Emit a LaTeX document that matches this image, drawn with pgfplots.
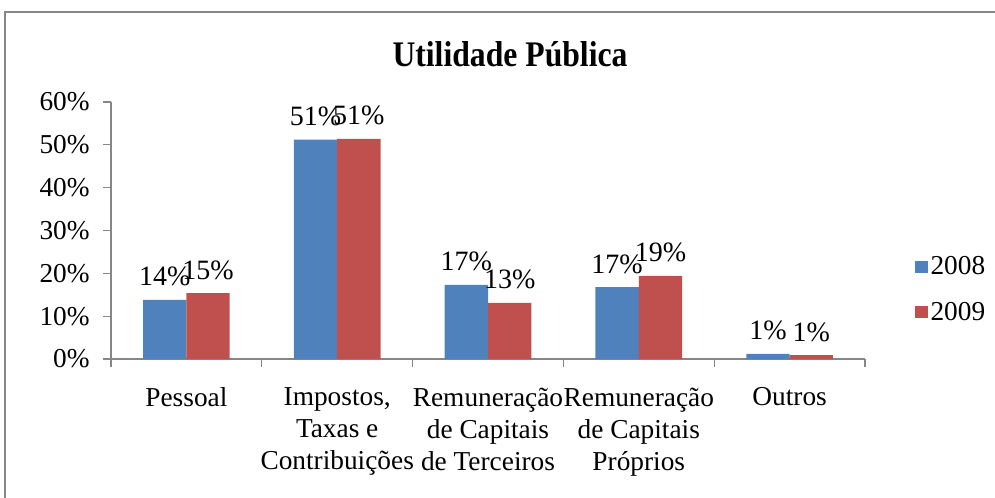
\documentclass[border=0pt]{standalone}
\usepackage{fontspec}
\setmainfont{Liberation Serif}
\usepackage{pgfplots}
\pgfplotsset{compat=1.18}
\definecolor{barblue}{HTML}{4F81BD}
\definecolor{barred}{HTML}{C0504D}
\definecolor{axgray}{HTML}{868686}

\begin{document}
\begin{tikzpicture}
% 1 px of the reference = 0.75pt
\useasboundingbox (0,0) rectangle (746.25pt,-372.75pt);
\begin{scope}[x=0.75pt,y=-0.75pt]
  \draw[axgray, line width=1.5pt] (5,510) -- (5,12) -- (1010,12);
  \node[font=\fontsize{27}{30}\selectfont\bfseries] at (510,54) {\scalebox{0.88}[1]{Utilidade Pública}};
\end{scope}
\begin{axis}[
    at={(83.25pt,-269.25pt)}, anchor=south west,
    scale only axis,
    width=565.5pt, height=192.75pt,
    ybar=0pt, bar width=32.5pt,
    xmin=-0.5, xmax=4.5,
    ymin=0, ymax=60,
    ytick={0,10,...,60},
    yticklabel={\pgfmathprintnumber{\tick}\%},
    xtick={0,1,2,3,4},
    xticklabels={Pessoal,
      {Impostos,\\Taxas e\\Contribuições},
      {Remuneração\\de Capitais\\de Terceiros},
      {Remuneração\\de Capitais\\Próprios},
      Outros},
    minor xtick={-0.5,0.5,...,4.5},
    major x tick style={draw=none},
    tick align=outside,
    major tick length=6pt,
    minor tick length=6pt,
    tick style={axgray, line width=0.8pt},
    axis x line*=bottom, axis y line*=left,
    axis line style={axgray, line width=0.8pt, -},
    /pgf/number format/assume math mode=true,
    tick label style={font=\fontsize{20.5}{24}\selectfont},
    xticklabel style={align=center, yshift=-12pt},
    yticklabel style={xshift=-6.5pt},
    nodes near coords={\pgfmathprintnumber[fixed,precision=0]{\pgfplotspointmeta}\%},
    every node near coord/.append style={font=\fontsize{21}{24}\selectfont, black, inner sep=1pt, yshift=9pt},
    legend style={at={(1.06,0.27)}, anchor=west, draw=none, fill=none,
      font=\fontsize{20.5}{24}\selectfont, row sep=15pt,
      /tikz/every even column/.append style={column sep=2pt}},
    legend image code/.code={\fill[#1] (0pt,-4.5pt) rectangle (10pt,4.5pt);},
    clip=false,
]
\addplot+[barblue, fill=barblue, draw=none] coordinates {
    (0,13.8) (1,51.2) (2,17.3) (3,16.8) (4,1.2)
};
\addplot+[barred, fill=barred, draw=none] coordinates {
    (0,15.4) (1,51.4) (2,13.1) (3,19.4) (4,0.9)
};
\legend{2008,2009}
\end{axis}
\end{tikzpicture}
\end{document}
